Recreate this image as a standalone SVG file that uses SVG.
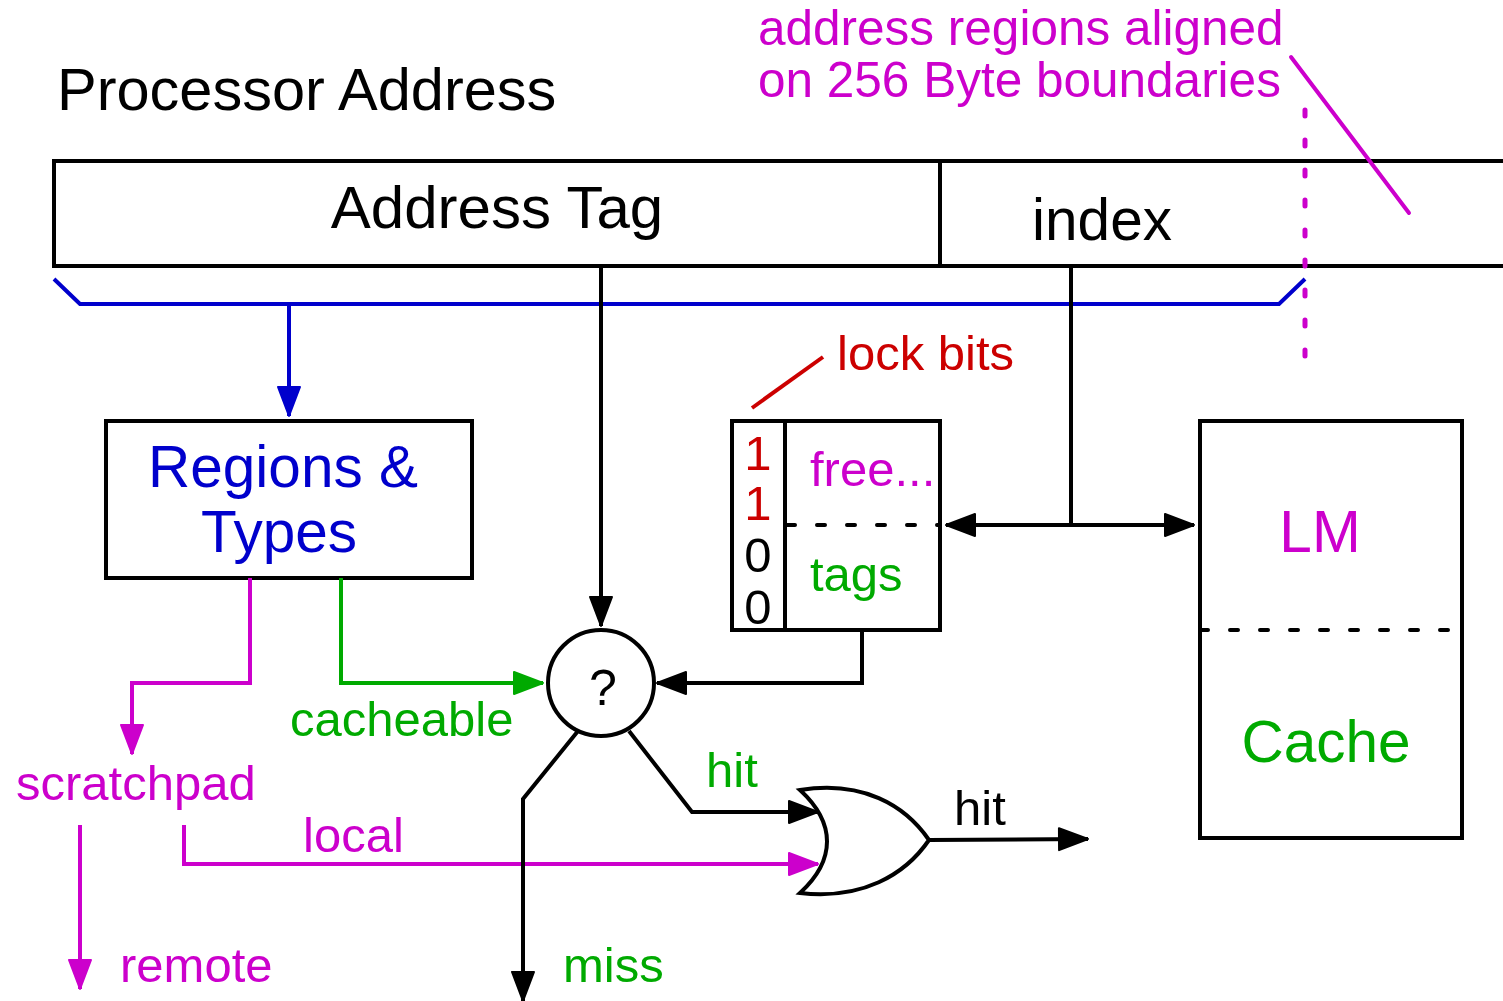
<svg xmlns="http://www.w3.org/2000/svg" width="1503" height="1001" viewBox="0 0 1503 1001">
  <style>
    text { font-family: "Liberation Sans", Arial, sans-serif; }
    .box { fill: #fff; stroke: #000; stroke-width: 4; }
    .ln { fill: none; stroke-width: 4; stroke-linejoin: miter; }
    .k { stroke: #000; }
    .m { stroke: #cc00cc; }
    .g { stroke: #00aa00; }
    .b { stroke: #0000cc; }
    .r { stroke: #cc0000; }
    .dot { fill: none; stroke: #000; stroke-width: 4; stroke-dasharray: 8 22; stroke-linecap: round; }
    .tm { fill: #cc00cc; }
    .tg { fill: #00aa00; }
    .tb { fill: #0000cc; }
    .tr { fill: #cc0000; }
    .tk { fill: #000; }
    .s { font-size: 49px; }
  </style>
  <defs>
    <marker id="ak" markerUnits="userSpaceOnUse" markerWidth="34" markerHeight="28" refX="31" refY="13" orient="auto">
      <path d="M2,2 L31,13 L2,24 z" fill="#000" stroke="#000" stroke-width="2" stroke-linejoin="round"/>
    </marker>
    <marker id="am" markerUnits="userSpaceOnUse" markerWidth="34" markerHeight="28" refX="31" refY="13" orient="auto">
      <path d="M2,2 L31,13 L2,24 z" fill="#cc00cc" stroke="#cc00cc" stroke-width="2" stroke-linejoin="round"/>
    </marker>
    <marker id="ag" markerUnits="userSpaceOnUse" markerWidth="34" markerHeight="28" refX="31" refY="13" orient="auto">
      <path d="M2,2 L31,13 L2,24 z" fill="#00aa00" stroke="#00aa00" stroke-width="2" stroke-linejoin="round"/>
    </marker>
    <marker id="ab" markerUnits="userSpaceOnUse" markerWidth="34" markerHeight="28" refX="31" refY="13" orient="auto">
      <path d="M2,2 L31,13 L2,24 z" fill="#0000cc" stroke="#0000cc" stroke-width="2" stroke-linejoin="round"/>
    </marker>
  </defs>
  <rect width="1503" height="1001" fill="#fff"/>

  <!-- title -->
  <text x="57" y="110" font-size="59.5" class="tk">Processor Address</text>

  <!-- address register -->
  <g id="address">
    <rect x="54" y="161" width="1460" height="105" class="box"/>
    <line x1="940" y1="161" x2="940" y2="266" class="ln k"/>
    <text x="497" y="228" font-size="60" text-anchor="middle" class="tk">Address Tag</text>
    <text x="1102" y="240" font-size="58.5" text-anchor="middle" class="tk">index</text>
  </g>

  <!-- alignment annotation, drawn over the register -->
  <g id="note">
    <text x="758" y="45" font-size="49.5" class="tm">address regions aligned</text>
    <text x="758" y="97" font-size="49.5" class="tm">on 256 Byte boundaries</text>
    <line x1="1291" y1="57" x2="1409" y2="213" class="ln m" stroke-linecap="round"/>
    <line x1="1305" y1="110" x2="1305" y2="358" fill="none" stroke="#cc00cc" stroke-width="5" stroke-linecap="round" stroke-dasharray="6 24"/>
  </g>

  <!-- regions & types -->
  <g id="regions">
    <rect x="106" y="421" width="366" height="157" class="box"/>
    <text x="283" y="487" font-size="58.5" text-anchor="middle" class="tb">Regions &amp;</text>
    <text x="279" y="552" font-size="58.5" text-anchor="middle" class="tb">Types</text>
  </g>

  <!-- tag store with lock bits -->
  <g id="tagstore">
    <rect x="732" y="421" width="208" height="209" class="box"/>
    <line x1="785" y1="421" x2="785" y2="630" class="ln k"/>
    <line x1="787" y1="525" x2="940" y2="525" class="dot"/>
    <text x="758" y="470" text-anchor="middle" class="s tr">1</text>
    <text x="758" y="520" text-anchor="middle" class="s tr">1</text>
    <text x="758" y="572" text-anchor="middle" class="s tk">0</text>
    <text x="758" y="624" text-anchor="middle" class="s tk">0</text>
    <text x="810" y="486" class="s tm">free...</text>
    <text x="810" y="591" class="s tg">tags</text>
    <text x="837" y="370" class="s tr">lock bits</text>
    <line x1="752" y1="408" x2="823" y2="357" class="ln r"/>
  </g>

  <!-- local memory / cache -->
  <g id="lmcache">
    <rect x="1200" y="421" width="262" height="417" class="box"/>
    <line x1="1200" y1="630" x2="1462" y2="630" class="dot"/>
    <text x="1320" y="552" font-size="58.5" text-anchor="middle" class="tm">LM</text>
    <text x="1326" y="762" font-size="58.5" text-anchor="middle" class="tg">Cache</text>
  </g>

  <!-- comparator -->
  <g id="compare">
    <circle cx="601" cy="683" r="53" class="box"/>
    <text x="603" y="705" font-size="50" text-anchor="middle" class="tk">?</text>
  </g>

  <!-- OR gate -->
  <g id="orgate">
    <path d="M800,790 C862,780 905,805 929,840 C905,875 862,900 800,893 C836,860 836,823 800,790 Z" class="box"/>
  </g>

  <!-- connectors -->
  <g id="connectors">
    <polyline points="54,279 80,304 1279,304 1305,279" class="ln b"/>
    <line x1="289" y1="304" x2="289" y2="416" class="ln b" marker-end="url(#ab)"/>
    <line x1="601" y1="266" x2="601" y2="626" class="ln k" marker-end="url(#ak)"/>
    <line x1="1071" y1="266" x2="1071" y2="525" class="ln k"/>
    <line x1="1071" y1="525" x2="946" y2="525" class="ln k" marker-end="url(#ak)"/>
    <line x1="1071" y1="525" x2="1194" y2="525" class="ln k" marker-end="url(#ak)"/>
    <polyline points="862,630 862,683 657,683" class="ln k" marker-end="url(#ak)"/>
    <polyline points="341,578 341,683 543,683" class="ln g" marker-end="url(#ag)"/>
    <polyline points="250,578 250,683 132,683 132,754" class="ln m" marker-end="url(#am)"/>
    <line x1="80" y1="825" x2="80" y2="989" class="ln m" marker-end="url(#am)"/>
    <polyline points="184,825 184,864 818,864" class="ln m" marker-end="url(#am)"/>
    <polyline points="578,731 523,799 523,1001" class="ln k" marker-end="url(#ak)"/>
    <polyline points="629,731 692,812 818,812" class="ln k" marker-end="url(#ak)"/>
    <line x1="929" y1="840" x2="1088" y2="839" class="ln k" marker-end="url(#ak)"/>
    <text x="290" y="736" class="s tg">cacheable</text>
    <text x="16" y="800" class="s tm">scratchpad</text>
    <text x="303" y="852" class="s tm">local</text>
    <text x="120" y="982" class="s tm">remote</text>
    <text x="563" y="982" class="s tg">miss</text>
    <text x="706" y="787" class="s tg">hit</text>
    <text x="954" y="825" class="s tk">hit</text>
  </g>
</svg>
